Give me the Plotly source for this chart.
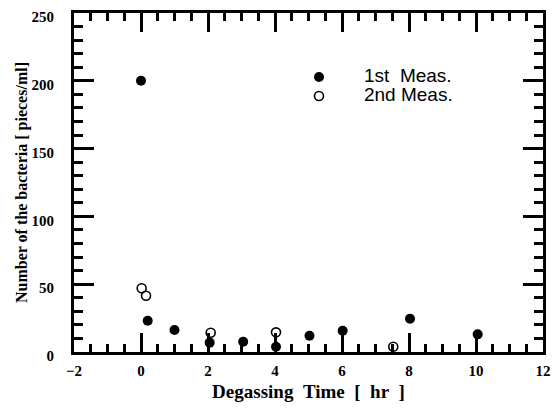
import plotly.graph_objects as go

# Data
first_x = [0.0, 0.2, 1.0, 2.05, 3.05, 4.03, 5.03, 6.02, 8.03, 10.05]
first_y = [200.0, 23.0, 16.2, 6.9, 7.6, 3.9, 12.0, 15.7, 24.5, 13.0]
second_x = [0.02, 0.15, 2.08, 4.03, 7.53]
second_y = [47.0, 41.5, 14.2, 14.5, 3.9]

x_range = [-2, 12]
y_range = [0, 250]
x_title = "Degassing\u00a0\u00a0Time\u00a0\u00a0[\u00a0\u00a0hr\u00a0\u00a0]"
y_title = "Number of the bacteria [ pieces/ml]"
names = ["1st\u00a0 Meas.", "2nd Meas."]

serif = "Liberation Serif, Times New Roman, serif"
sans = "Liberation Sans, Arial, Helvetica, sans-serif"

fig = go.Figure()
fig.add_trace(go.Scatter(
    x=first_x, y=first_y, mode="markers",
    name='<span style="font-size:19px">' + names[0] + '</span>',
    marker=dict(symbol="circle", size=10, color="black", line=dict(width=0)),
))
fig.add_trace(go.Scatter(
    x=second_x, y=second_y, mode="markers",
    name='<span style="font-size:19px">' + names[1] + '</span>',
    marker=dict(symbol="circle-open", size=9, color="black", line=dict(width=1.6)),
))
# empty trace to activate the mirrored tick axes (top / right)
fig.add_trace(go.Scatter(x=[], y=[], xaxis="x2", yaxis="y2", showlegend=False, hoverinfo="skip"))

tickfont = dict(family=serif, size=15, color="black", weight="bold")
x_minor = dict(dtick=0.5, ticklen=8, tickwidth=3, tickcolor="black", ticks="inside")
y_minor = dict(dtick=10, ticklen=9, tickwidth=3, tickcolor="black", ticks="inside")

fig.update_layout(
    width=552, height=413,
    margin=dict(l=74, r=9, t=13, b=61),
    paper_bgcolor="white", plot_bgcolor="white",
    xaxis=dict(
        range=x_range, dtick=2, tick0=0, ticks="inside", ticklen=19, tickwidth=3, tickcolor="black",
        minor=x_minor, showgrid=False, zeroline=False, showline=True, linecolor="black",
        linewidth=3, mirror=True, tickfont=tickfont, automargin=False, ticklabelstandoff=3,
        title=dict(text=x_title, font=dict(family=serif, size=19, color="black", weight="bold"), standoff=7),
    ),
    yaxis=dict(
        range=y_range, dtick=50, tick0=0, ticks="inside", ticklen=20, tickwidth=3, tickcolor="black",
        minor=y_minor, showgrid=False, zeroline=False, showline=True, linecolor="black",
        linewidth=3, mirror=True, tickfont=tickfont, automargin=False, ticklabelstandoff=14,
        ticklabelshift=4,
        title=dict(text=y_title, font=dict(family=serif, size=16, color="black", weight="bold"), standoff=0),
    ),
    xaxis2=dict(
        range=x_range, dtick=2, tick0=0, ticks="inside", ticklen=19, tickwidth=3, tickcolor="black",
        minor=x_minor, overlaying="x", side="top", anchor="y", showticklabels=False,
        showgrid=False, zeroline=False, showline=False, automargin=False,
    ),
    yaxis2=dict(
        range=y_range, dtick=50, tick0=0, ticks="inside", ticklen=20, tickwidth=3, tickcolor="black",
        minor=y_minor, overlaying="y", side="right", anchor="x", showticklabels=False,
        showgrid=False, zeroline=False, showline=False, automargin=False,
    ),
    showlegend=True,
    legend=dict(
        x=0.4264, y=0.783, xanchor="left", yanchor="middle",
        font=dict(family=sans, size=12, color="black"),
        bgcolor="rgba(0,0,0,0)", borderwidth=0, itemwidth=80,
        tracegroupgap=0,
    ),
)

fig.write_html("out.html", config={"displayModeBar": False},
               post_script="document.body.style.margin='0';")
